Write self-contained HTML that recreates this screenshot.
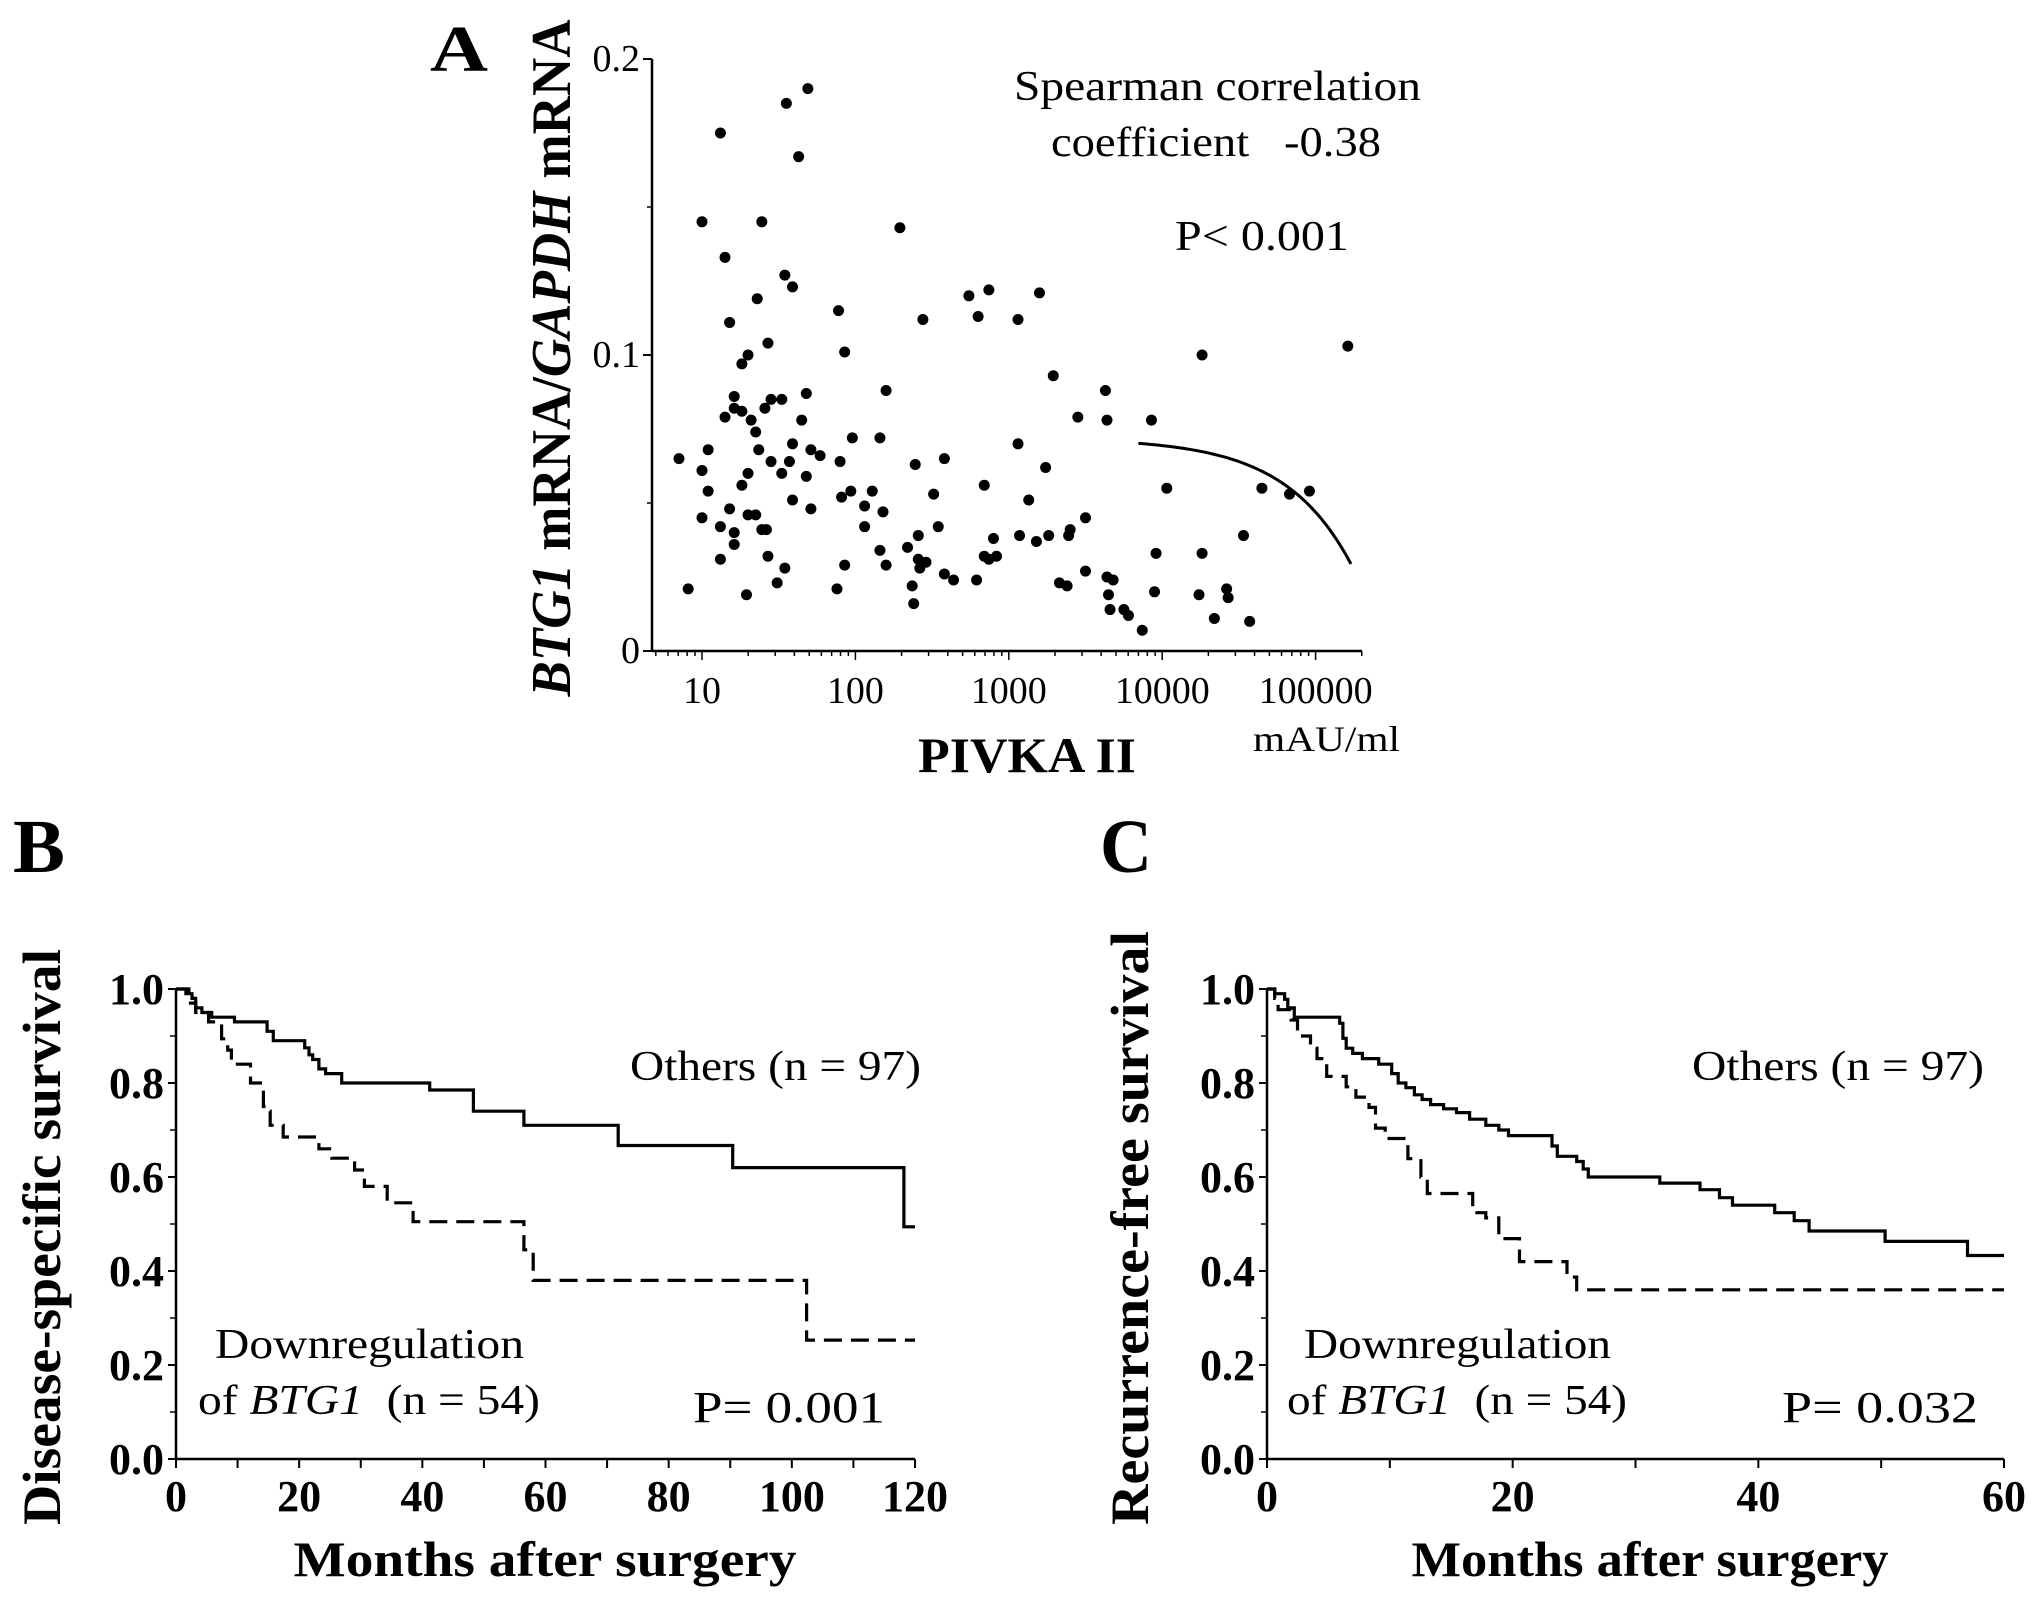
<!DOCTYPE html>
<html><head><meta charset="utf-8"><style>
html,body{margin:0;padding:0;background:#fff;}
svg{display:block;}
text{font-family:"Liberation Serif",serif;fill:#000;}
</style></head><body>
<svg id="fig" width="2031" height="1602" viewBox="0 0 2031 1602" xmlns="http://www.w3.org/2000/svg">
<rect width="2031" height="1602" fill="#fff"/>
<g id="pa"></g>
<g id="pb"></g>
<g id="pc"></g>
<!-- Panel A text -->
<text x="430" y="71" font-size="66" font-weight="bold" textLength="58" lengthAdjust="spacingAndGlyphs">A</text>
<text transform="translate(570,358) rotate(-90)" text-anchor="middle" font-size="56" font-weight="bold" textLength="677" lengthAdjust="spacingAndGlyphs"><tspan font-style="italic">BTG1</tspan> mRNA/<tspan font-style="italic">GAPDH</tspan> mRNA</text>
<text x="1027" y="772" text-anchor="middle" font-size="50" font-weight="bold" textLength="218" lengthAdjust="spacingAndGlyphs">PIVKA II</text>
<text x="1253" y="751" font-size="36" textLength="147" lengthAdjust="spacingAndGlyphs">mAU/ml</text>
<text x="1014" y="100" font-size="42" textLength="407" lengthAdjust="spacingAndGlyphs">Spearman correlation</text>
<text x="1051" y="156" font-size="42" textLength="330" lengthAdjust="spacingAndGlyphs" xml:space="preserve">coefficient   -0.38</text>
<text x="1175" y="250" font-size="42" textLength="174" lengthAdjust="spacingAndGlyphs">P&lt; 0.001</text>
<!-- Panel B text -->
<text x="13" y="872" font-size="76" font-weight="bold" textLength="52" lengthAdjust="spacingAndGlyphs">B</text>
<text transform="translate(60,1237) rotate(-90)" text-anchor="middle" font-size="54" font-weight="bold" textLength="576" lengthAdjust="spacingAndGlyphs">Disease-specific survival</text>
<text x="545" y="1576" text-anchor="middle" font-size="50" font-weight="bold" textLength="503" lengthAdjust="spacingAndGlyphs">Months after surgery</text>
<text x="630" y="1080" font-size="42" textLength="291" lengthAdjust="spacingAndGlyphs">Others (n = 97)</text>
<text x="215" y="1358" font-size="42" textLength="309" lengthAdjust="spacingAndGlyphs">Downregulation</text>
<text x="198" y="1414" font-size="42" textLength="342" lengthAdjust="spacingAndGlyphs" xml:space="preserve">of <tspan font-style="italic">BTG1</tspan>  (n = 54)</text>
<text x="693" y="1422" font-size="44" textLength="192" lengthAdjust="spacingAndGlyphs">P= 0.001</text>
<!-- Panel C text -->
<text x="1100" y="872" font-size="76" font-weight="bold" textLength="52" lengthAdjust="spacingAndGlyphs">C</text>
<text transform="translate(1148,1228) rotate(-90)" text-anchor="middle" font-size="54" font-weight="bold" textLength="594" lengthAdjust="spacingAndGlyphs">Recurrence-free survival</text>
<text x="1650" y="1576" text-anchor="middle" font-size="50" font-weight="bold" textLength="477" lengthAdjust="spacingAndGlyphs">Months after surgery</text>
<text x="1692" y="1080" font-size="42" textLength="292" lengthAdjust="spacingAndGlyphs">Others (n = 97)</text>
<text x="1304" y="1358" font-size="42" textLength="307" lengthAdjust="spacingAndGlyphs">Downregulation</text>
<text x="1287" y="1414" font-size="42" textLength="340" lengthAdjust="spacingAndGlyphs" xml:space="preserve">of <tspan font-style="italic">BTG1</tspan>  (n = 54)</text>
<text x="1782" y="1422" font-size="44" textLength="196" lengthAdjust="spacingAndGlyphs">P= 0.032</text>
</svg>
<script>
// ---- Panel A data ----
var pivkaLog10 = [0.85,0.91,1.00,1.00,1.00,1.04,1.04,1.12,1.12,1.12,1.15,1.15,1.18,1.18,1.21,1.21,1.21,1.21,1.26,1.26,1.26,1.29,1.30,1.30,1.30,1.32,1.35,1.35,1.36,1.37,1.39,1.41,1.39,1.42,1.43,1.43,1.45,1.45,1.49,1.52,1.52,1.54,1.54,1.55,1.57,1.59,1.59,1.59,1.63,1.65,1.68,1.68,1.69,1.71,1.71,1.77,1.88,1.89,1.90,1.91,1.93,1.93,1.97,1.98,2.06,2.06,2.11,2.16,2.16,2.18,2.20,2.20,2.29,2.34,2.37,2.38,2.39,2.41,2.41,2.42,2.44,2.46,2.51,2.54,2.58,2.58,2.64,2.74,2.79,2.80,2.84,2.84,2.87,2.87,2.90,2.92,3.06,3.06,3.07,3.13,3.18,3.20,3.24,3.26,3.29,3.33,3.38,3.39,3.40,3.45,3.50,3.50,3.63,3.64,3.64,3.68,3.65,3.66,3.75,3.78,3.87,3.93,3.96,3.95,4.03,4.24,4.26,4.26,4.34,4.42,4.43,4.53,4.57,4.65,4.83,4.96,5.21];
var btg1Ratio = [0.065,0.021,0.145,0.061,0.045,0.068,0.054,0.042,0.031,0.175,0.133,0.079,0.111,0.048,0.086,0.082,0.040,0.036,0.097,0.081,0.056,0.019,0.100,0.060,0.046,0.078,0.046,0.074,0.119,0.068,0.145,0.082,0.041,0.041,0.104,0.032,0.064,0.085,0.023,0.085,0.060,0.028,0.127,0.185,0.064,0.123,0.051,0.070,0.167,0.078,0.087,0.059,0.190,0.068,0.048,0.066,0.021,0.115,0.064,0.052,0.029,0.101,0.054,0.072,0.049,0.042,0.054,0.034,0.072,0.047,0.088,0.029,0.143,0.035,0.022,0.016,0.063,0.039,0.031,0.028,0.112,0.030,0.053,0.042,0.065,0.026,0.024,0.120,0.024,0.113,0.056,0.032,0.122,0.031,0.038,0.032,0.112,0.070,0.039,0.051,0.037,0.121,0.062,0.039,0.093,0.023,0.022,0.039,0.041,0.079,0.027,0.045,0.088,0.078,0.025,0.024,0.019,0.014,0.014,0.012,0.007,0.078,0.033,0.020,0.055,0.019,0.100,0.033,0.011,0.021,0.018,0.039,0.010,0.055,0.053,0.054,0.103];
var fitRange = [7000, 170000];
var fitIntercept = 0.0719, fitSlope = -2.5e-7;
var aYTicks = [0, 0.1, 0.2];
var aYTickLabels = ["0","0.1","0.2"];
var aXTicks = [10,100,1000,10000,100000];
var aXTickLabels = ["10","100","1000","10000","100000"];

// ---- Panel B data ----
var bOthersT = [0,1.6,2.6,3.2,4.2,5.8,9.5,14.8,15.8,20.9,21.6,22.2,23.2,24.3,26.9,41.2,48.3,56.5,71.8,90.4,118.2];
var bOthersS = [1.0,0.99,0.98,0.96,0.95,0.94,0.93,0.91,0.89,0.875,0.86,0.85,0.83,0.82,0.80,0.785,0.74,0.71,0.667,0.62,0.494];
var bOthersEnd = 120;
var bDownT = [0,2.1,3.2,5.3,7.4,8.4,9.0,12.1,14.2,14.8,15.3,17.4,23.2,25.3,29.0,30.6,34.3,38.5,56.5,58.0,102.4];
var bDownS = [1.0,0.97,0.95,0.93,0.894,0.87,0.84,0.80,0.75,0.74,0.71,0.685,0.66,0.64,0.615,0.58,0.545,0.505,0.445,0.38,0.253];
var bDownEnd = 120;
var bXTicks = [0,20,40,60,80,100,120];

// ---- Panel C data ----
var cOthersT = [0,0.63,1.43,1.69,2.22,5.92,6.18,6.45,6.98,7.77,9.09,10.15,10.68,11.31,12.0,12.63,13.32,14.38,15.43,16.49,17.81,18.87,19.66,23.2,23.63,25.21,25.74,26.16,31.98,35.25,36.84,37.9,41.33,42.92,44.13,50.32,57.03];
var cOthersS = [1.0,0.99,0.978,0.96,0.94,0.927,0.895,0.874,0.863,0.852,0.84,0.82,0.80,0.79,0.775,0.765,0.754,0.745,0.737,0.723,0.71,0.70,0.688,0.666,0.644,0.633,0.617,0.60,0.587,0.573,0.556,0.54,0.524,0.507,0.485,0.463,0.433];
var cOthersEnd = 60;
var cDownT = [0,0.63,0.9,1.96,2.48,3.54,4.07,4.86,6.45,7.24,8.3,8.83,9.62,11.47,12.53,13.05,16.75,17.81,18.87,20.56,24.42,25.21];
var cDownS = [1.0,0.98,0.956,0.934,0.90,0.874,0.852,0.814,0.792,0.77,0.748,0.704,0.682,0.639,0.60,0.565,0.524,0.513,0.469,0.42,0.387,0.36];
var cDownEnd = 60;
var cXTicks = [0,20,40,60];
var survTicks = [0,0.2,0.4,0.6,0.8,1.0];
var survTickLabels = ["0.0","0.2","0.4","0.6","0.8","1.0"];

var NS = "http://www.w3.org/2000/svg";
function mk(parent, tag, attrs){var e=document.createElementNS(NS,tag);for(var k in attrs)e.setAttribute(k,attrs[k]);parent.appendChild(e);return e;}

// ---- Panel A ----
(function(){
  var g=document.getElementById('pa');
  var x0=652,x1=1362,yTop=59,yBot=651;
  function xs(v){return 702+(Math.log10(v)-1)*153.4;}
  function xl(l){return 702+(l-1)*153.4;}
  function ys(v){return 651-v*2960;}
  var ax=mk(g,'line',{x1:x0,y1:yBot,x2:x1,y2:yBot,stroke:'#000','stroke-width':2.5});
  
  var ay=mk(g,'line',{x1:x0,y1:yTop,x2:x0,y2:yBot,stroke:'#000','stroke-width':2.5});
  
  for(var i=0;i<aYTicks.length;i++){
    var y=ys(aYTicks[i]);
    var tk=mk(g,'line',{x1:x0-9,y1:y,x2:x0,y2:y,stroke:'#000','stroke-width':2});
    
    var t=mk(g,'text',{x:x0-12,y:y+12,'text-anchor':'end','font-size':38});
    t.textContent=aYTickLabels[i];
    
    if(i<aYTicks.length-1){var ym=ys((aYTicks[i]+aYTicks[i+1])/2);
      var mt=mk(g,'line',{x1:x0-5,y1:ym,x2:x0,y2:ym,stroke:'#000','stroke-width':1.5});
      }
  }
  for(var d=0;d<=5;d++){for(var m=1;m<10;m++){
    var v=m*Math.pow(10,d);var x=xs(v);if(x<x0||x>x1)continue;
    var mt2=mk(g,'line',{x1:x,y1:yBot,x2:x,y2:yBot+(m==1?9:5),stroke:'#000','stroke-width':1.5});
    
  }}
  for(var j=0;j<aXTicks.length;j++){
    var tl=mk(g,'text',{x:xs(aXTicks[j]),y:703,'text-anchor':'middle','font-size':38});
    tl.textContent=aXTickLabels[j];
    
  }
  for(var k=0;k<pivkaLog10.length;k++){
    var c=mk(g,'circle',{cx:xl(pivkaLog10[k]),cy:ys(btg1Ratio[k]),r:5.5,fill:'#000'});
    
  }
  var pts=[];
  var l0=Math.log10(fitRange[0]),l1=Math.log10(fitRange[1]);
  for(var s=0;s<=60;s++){var l=l0+(l1-l0)*s/60;var v2=Math.pow(10,l);pts.push(xl(l).toFixed(1)+','+ys(fitIntercept+fitSlope*v2).toFixed(1));}
  var fl=mk(g,'polyline',{points:pts.join(' '),fill:'none',stroke:'#000','stroke-width':3});
  
})();

// ---- KM panels ----
function kmPanel(gid, xLeft, xRight, tMax, xTicks, minorStep, series, tag){
  var g=document.getElementById(gid);
  var yTop=989,yBot=1459;
  function xs(t){return xLeft+(t/tMax)*(xRight-xLeft);}
  function ys(s){return yBot-s*(yBot-yTop);}
  var ax=mk(g,'line',{x1:xLeft,y1:yBot,x2:xRight,y2:yBot,stroke:'#000','stroke-width':2.5});
  
  var ay=mk(g,'line',{x1:xLeft,y1:yTop,x2:xLeft,y2:yBot,stroke:'#000','stroke-width':2.5});
  
  for(var i=0;i<survTicks.length;i++){
    var y=ys(survTicks[i]);
    var tk=mk(g,'line',{x1:xLeft-8,y1:y,x2:xLeft,y2:y,stroke:'#000','stroke-width':2});
    
    var t=mk(g,'text',{x:xLeft-12,y:y+15,'text-anchor':'end','font-size':44,'font-weight':'bold'});
    t.textContent=survTickLabels[i];
    
    if(i<survTicks.length-1){var ym=ys((survTicks[i]+survTicks[i+1])/2);
      var mt=mk(g,'line',{x1:xLeft-6,y1:ym,x2:xLeft,y2:ym,stroke:'#000','stroke-width':1.5});
      }
  }
  for(var m=0;m<=tMax;m+=minorStep){
    var mt2=mk(g,'line',{x1:xs(m),y1:yBot,x2:xs(m),y2:yBot+9,stroke:'#000','stroke-width':2});
    
  }
  for(var j=0;j<xTicks.length;j++){
    var tl=mk(g,'text',{x:xs(xTicks[j]),y:1511,'text-anchor':'middle','font-size':44,'font-weight':'bold'});
    tl.textContent=String(xTicks[j]);
    
  }
  series.forEach(function(sr){
    var d='M'+xs(sr.t[0])+','+ys(sr.s[0]);
    for(var k=1;k<sr.t.length;k++){d+=' H'+xs(sr.t[k]).toFixed(1)+' V'+ys(sr.s[k]).toFixed(1);}
    d+=' H'+xs(sr.end).toFixed(1);
    var p=mk(g,'path',{d:d,fill:'none',stroke:'#000','stroke-width':3.2});
    if(sr.dash)p.setAttribute('stroke-dasharray','18 9');
    
    
  });
}
kmPanel('pb',176,915,120,bXTicks,10,[
  {t:bOthersT,s:bOthersS,end:bOthersEnd,dash:false,name:'km-line-others-b'},
  {t:bDownT,s:bDownS,end:bDownEnd,dash:true,name:'km-line-downregulation-b'}],'b');
kmPanel('pc',1267,2004,60,cXTicks,10,[
  {t:cOthersT,s:cOthersS,end:cOthersEnd,dash:false,name:'km-line-others-c'},
  {t:cDownT,s:cDownS,end:cDownEnd,dash:true,name:'km-line-downregulation-c'}],'c');
</script>
</body></html>
